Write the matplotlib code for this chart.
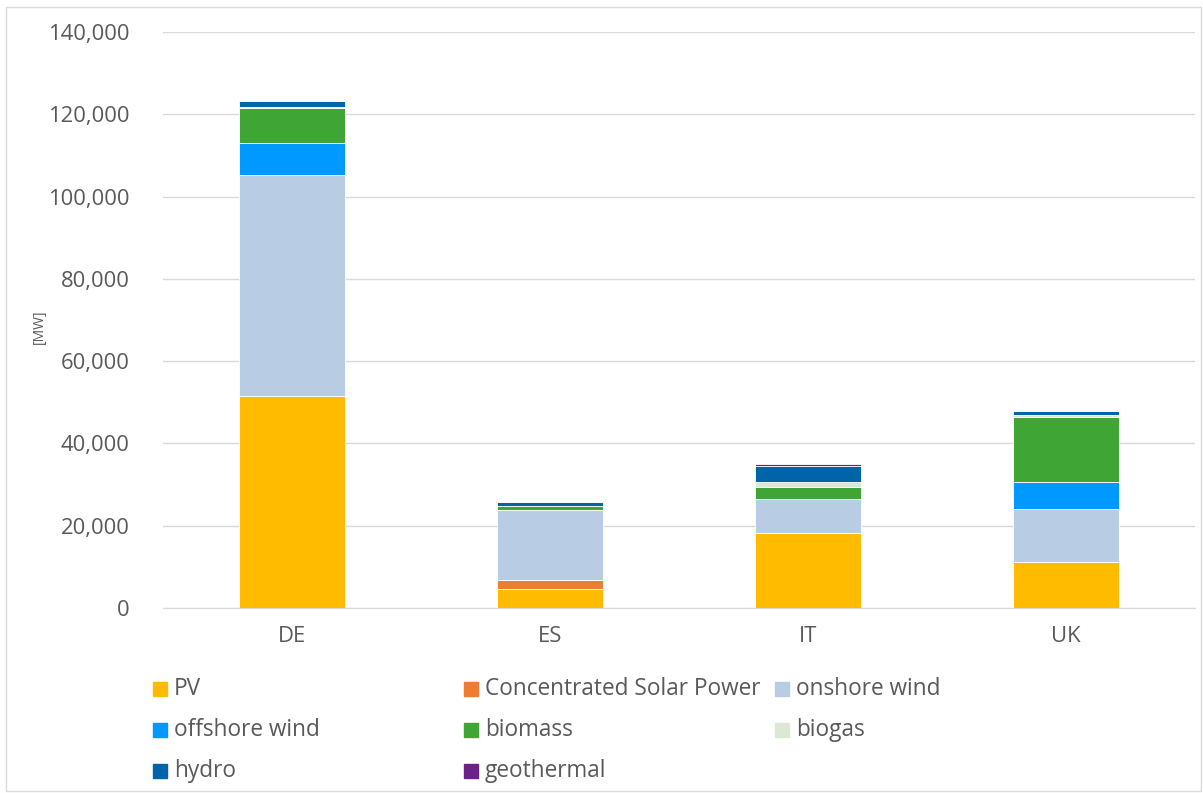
import numpy as np
import matplotlib.pyplot as plt
from matplotlib.patches import Rectangle
from matplotlib.ticker import FuncFormatter

# installed capacity per country, MW
countries = ['DE', 'ES', 'IT', 'UK']
pv = [51600, 4600, 18200, 11100]
csp = [0, 2300, 0, 0]
onshore = [53600, 16800, 8400, 12900]
offshore = [7800, 0, 0, 6600]
biomass = [8500, 1000, 2700, 15900]
biogas = [150, 150, 1300, 400]
hydro = [1600, 800, 3800, 900]
geothermal = [100, 0, 550, 0]

names = ['PV', 'Concentrated Solar Power', 'onshore wind', 'offshore wind',
         'biomass', 'biogas', 'hydro', 'geothermal']
series = [pv, csp, onshore, offshore, biomass, biogas, hydro, geothermal]
colors = ['#FFBB00', '#ED7D31', '#B8CCE4', '#0099FF',
          '#3FA535', '#DCE8D4', '#0065A8', '#6C2189']

plt.rcParams['font.family'] = ['Open Sans', 'DejaVu Sans']
txt = '#595959'

W, H = 1203, 793
fig = plt.figure(figsize=(W / 100, H / 100), dpi=100)
ax = fig.add_axes([163 / W, 1 - 608 / H, (1195 - 163) / W, (608 - 32) / H])

x = np.arange(len(countries))
bottom = np.zeros(len(countries))
for vals, c in zip(series, colors):
    ax.bar(x, vals, width=0.41, bottom=bottom, color=c,
           edgecolor='white', linewidth=0.6, zorder=3)
    bottom += np.array(vals)

ax.set_xlim(-0.5, len(countries) - 0.5)
ax.set_ylim(0, 140000)
ax.set_yticks(np.arange(0, 140001, 20000))
ax.yaxis.set_major_formatter(FuncFormatter(lambda v, p: f'{int(v):,}'))
ax.set_xticks(x)
ax.set_xticklabels(countries)
ax.grid(axis='y', color='#D9D9D9', linewidth=1, zorder=0)
for s in ['top', 'right', 'left']:
    ax.spines[s].set_visible(False)
ax.spines['bottom'].set_color('#D9D9D9')
ax.tick_params(axis='both', length=0, colors=txt, labelsize=15.8)
ax.tick_params(axis='x', pad=13)
ax.tick_params(axis='y', pad=24)

fig.text(39 / W, 1 - 327 / H, '[MW]', rotation=90, fontsize=10,
         color=txt, ha='center', va='center')

# legend laid out in a 3-column grid
for i, (name, c) in enumerate(zip(names, colors)):
    row, col = divmod(i, 3)
    lx = 153 + col * 311
    ly = 689 + row * 41
    fig.patches.append(Rectangle((lx / W, 1 - (ly + 7) / H), 14 / W, 14 / H,
                                 transform=fig.transFigure, color=c))
    fig.text((lx + 21) / W, 1 - ly / H, name, fontsize=16.3, color=txt,
             va='center', ha='left')

fig.patches.append(Rectangle((6 / W, 2 / H), (W - 8) / W, (H - 9) / H,
                             transform=fig.transFigure, fill=False,
                             edgecolor='#D9D9D9', linewidth=1))

fig.savefig('out.png', dpi=100)
